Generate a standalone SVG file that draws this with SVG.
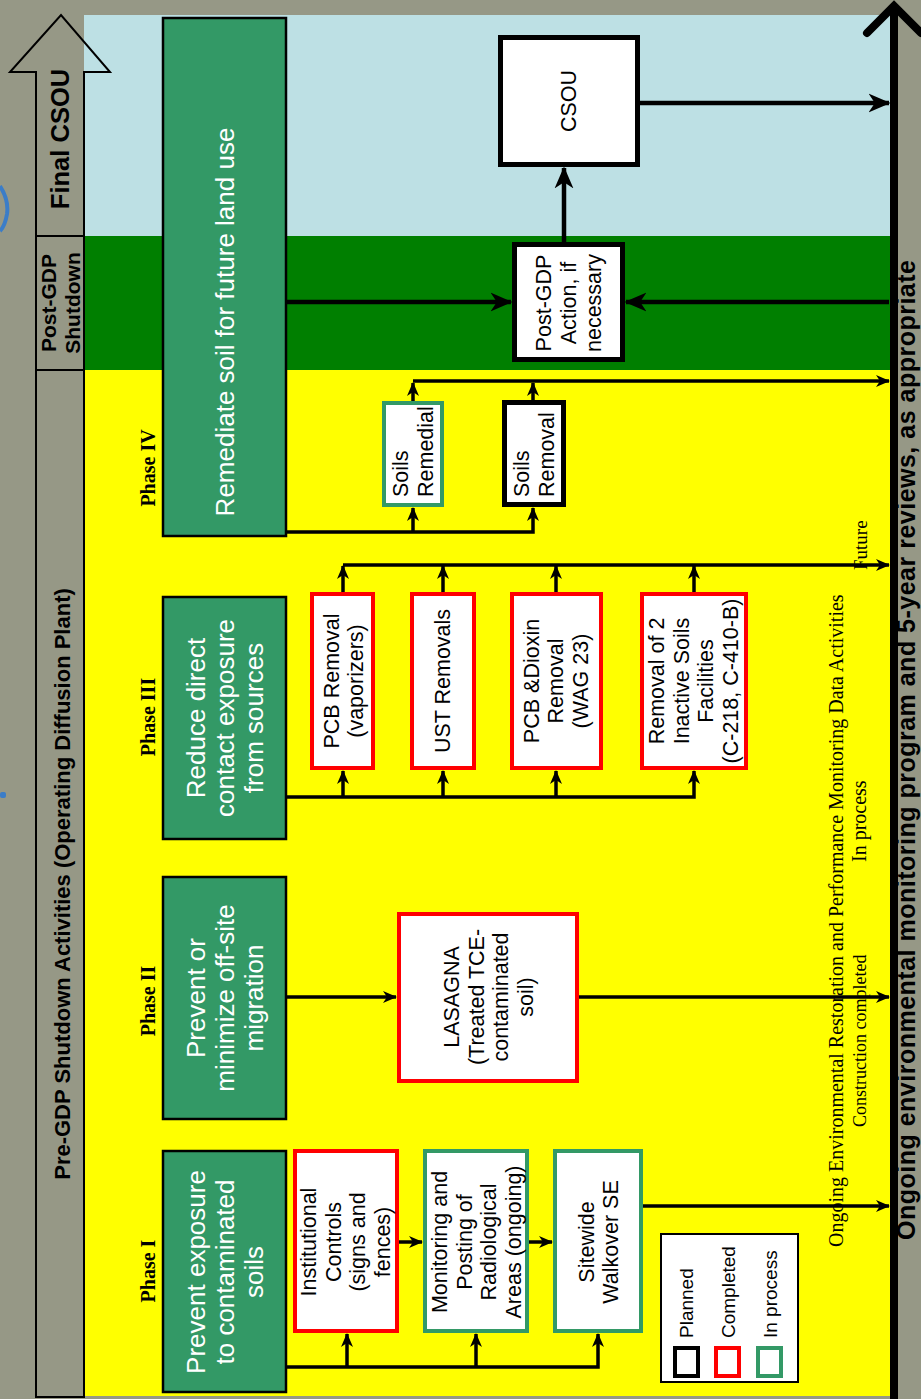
<svg xmlns="http://www.w3.org/2000/svg" width="921" height="1399" viewBox="0 0 921 1399">
<defs>
<style>
.gt{font-family:'Liberation Sans',Arial,sans-serif;font-size:26px;fill:#fff;text-anchor:middle;dominant-baseline:central}
.bt{font-family:'Liberation Sans',Arial,sans-serif;font-size:21.5px;fill:#000;text-anchor:middle;dominant-baseline:central}
.bts{font-family:'Liberation Sans',Arial,sans-serif;font-size:21.5px;fill:#000;text-anchor:start;dominant-baseline:central}
.lg{font-family:'Liberation Sans',Arial,sans-serif;font-size:19px;fill:#000;text-anchor:start}
.ph{font-family:'Liberation Serif','Times New Roman',serif;font-weight:bold;font-size:20px;fill:#000;text-anchor:middle;dominant-baseline:central}
.hd{font-family:'Liberation Sans',Arial,sans-serif;font-weight:bold;fill:#000;text-anchor:middle;dominant-baseline:central}
.sf{font-family:'Liberation Serif','Times New Roman',serif;fill:#000;text-anchor:start}
.gbox{fill:#339966;stroke:#000;stroke-width:2.5}
.red{fill:#fff;stroke:#f00;stroke-width:4}
.grn{fill:#fff;stroke:#339966;stroke-width:4}
.blk{fill:#fff;stroke:#000;stroke-width:5}
.cn{fill:none;stroke:#000;stroke-width:3.5;stroke-linejoin:miter}
.cnL{fill:none;stroke:#000;stroke-width:4.5}
</style>
<marker id="ah" viewBox="0 0 14 14" markerWidth="14" markerHeight="14" refX="13" refY="7" orient="auto" markerUnits="userSpaceOnUse"><path d="M0,1 L14,7 L0,13 L4,7 Z" fill="#000"/></marker>
<marker id="ahL" viewBox="0 0 14 14" markerWidth="22" markerHeight="22" refX="13" refY="7" orient="auto" markerUnits="userSpaceOnUse"><path d="M0,1 L14,7 L0,13 L4,7 Z" fill="#000"/></marker>
</defs>

<g id="background">
<rect width="921" height="1399" fill="#969886"/>
<rect x="84" y="15" width="806" height="221" fill="#BDE0E4"/>
<rect x="84" y="236" width="806" height="134" fill="#007F00"/>
<rect x="84" y="370" width="806" height="1026" fill="#FFFF00"/>
<path d="M0,186 Q9,200 7,214 Q5,226 0,231" fill="none" stroke="#3B7DC8" stroke-width="4"/>
<rect x="0" y="792" width="6" height="6" rx="2" fill="#3B7DC8"/>
</g>

<g id="header-column">
<path d="M36,1397 V72 H10 L61,15 L110,72 H84 V1397 Z" fill="none" stroke="#000" stroke-width="2"/>
<line x1="36" y1="236" x2="84" y2="236" stroke="#000" stroke-width="2"/>
<line x1="36" y1="370" x2="84" y2="370" stroke="#000" stroke-width="2"/>
<text class="hd" font-size="25.5" transform="translate(60,139) rotate(-90)">Final CSOU</text>
<text class="hd" font-size="21" transform="translate(60,303) rotate(-90)"><tspan x="0" dy="-12">Post-GDP</tspan><tspan x="0" dy="24">Shutdown</tspan></text>
<text class="hd" font-size="22" transform="translate(62,884) rotate(-90)">Pre-GDP Shutdown Activities (Operating Diffusion Plant)</text>
</g>

<g id="axis">
<line x1="894" y1="8" x2="894" y2="1399" stroke="#000" stroke-width="8"/>
<polyline points="867,33 894,6 921,33" fill="none" stroke="#000" stroke-width="8" stroke-linecap="round"/>
<text class="hd" font-size="25" textLength="980" lengthAdjust="spacing" style="text-anchor:start;dominant-baseline:auto" transform="translate(915,1240) rotate(-90)">Ongoing environmental monitoring program and 5-year reviews, as appropriate</text>
</g>

<g id="phase-labels">
<text class="ph" transform="translate(148,468) rotate(-90)">Phase IV</text>
<text class="ph" transform="translate(148,717) rotate(-90)">Phase III</text>
<text class="ph" transform="translate(148,1001) rotate(-90)">Phase II</text>
<text class="ph" transform="translate(148,1271) rotate(-90)">Phase I</text>
</g>

<g id="connectors">
<path class="cnL" d="M640,103 H889" marker-end="url(#ahL)"/>
<path class="cnL" d="M564,242 V168" marker-end="url(#ahL)"/>
<path class="cnL" d="M287,302 H511" marker-end="url(#ahL)"/>
<path class="cnL" d="M889,302 H626" marker-end="url(#ahL)"/>

<path class="cn" d="M287,532 H533 V508" marker-end="url(#ah)"/>
<path class="cn" d="M413,532 V508" marker-end="url(#ah)"/>
<path class="cn" d="M413,401 V383" marker-end="url(#ah)"/>
<path class="cn" d="M533,400 V383" marker-end="url(#ah)"/>
<path class="cn" d="M413,381 H889" marker-end="url(#ah)"/>

<path class="cn" d="M287,797 H694 V771" marker-end="url(#ah)"/>
<path class="cn" d="M343,797 V771" marker-end="url(#ah)"/>
<path class="cn" d="M443,797 V771" marker-end="url(#ah)"/>
<path class="cn" d="M556,797 V771" marker-end="url(#ah)"/>
<path class="cn" d="M343,592 V566" marker-end="url(#ah)"/>
<path class="cn" d="M443,592 V566" marker-end="url(#ah)"/>
<path class="cn" d="M556,592 V566" marker-end="url(#ah)"/>
<path class="cn" d="M694,592 V566" marker-end="url(#ah)"/>
<path class="cn" d="M343,565 H889" marker-end="url(#ah)"/>

<path class="cn" d="M287,997 H396" marker-end="url(#ah)"/>
<path class="cn" d="M579,997 H889" marker-end="url(#ah)"/>

<path class="cn" d="M287,1367 H598 V1334" marker-end="url(#ah)"/>
<path class="cn" d="M347,1367 V1334" marker-end="url(#ah)"/>
<path class="cn" d="M476,1367 V1334" marker-end="url(#ah)"/>
<path class="cn" d="M399,1242 H422" marker-end="url(#ah)"/>
<path class="cn" d="M529,1242 H552" marker-end="url(#ah)"/>
<path class="cn" d="M643,1206 H889" marker-end="url(#ah)"/>
</g>

<g id="phase4-goal">
<rect class="gbox" x="163" y="18" width="123" height="518"/>
<text class="gt" transform="translate(225,322) rotate(-90)">Remediate soil for future land use</text>
</g>
<g id="phase3-goal">
<rect class="gbox" x="163" y="597" width="123" height="242"/>
<text class="gt" transform="translate(225,718) rotate(-90)"><tspan x="0" dy="-29">Reduce direct</tspan><tspan x="0" dy="29">contact exposure</tspan><tspan x="0" dy="29">from sources</tspan></text>
</g>
<g id="phase2-goal">
<rect class="gbox" x="163" y="877" width="123" height="242"/>
<text class="gt" transform="translate(225,998) rotate(-90)"><tspan x="0" dy="-29">Prevent or</tspan><tspan x="0" dy="29">minimize off-site</tspan><tspan x="0" dy="29">migration</tspan></text>
</g>
<g id="phase1-goal">
<rect class="gbox" x="163" y="1151" width="123" height="241"/>
<text class="gt" transform="translate(225,1272) rotate(-90)"><tspan x="0" dy="-29">Prevent exposure</tspan><tspan x="0" dy="29">to contaminated</tspan><tspan x="0" dy="29">soils</tspan></text>
</g>

<g id="csou">
<rect class="blk" x="500.5" y="37.5" width="137" height="127"/>
<text class="bt" transform="translate(569,101) rotate(-90)">CSOU</text>
</g>
<g id="post-gdp-action">
<rect class="blk" x="514.5" y="244.5" width="108" height="115"/>
<text class="bt" transform="translate(569,303) rotate(-90)"><tspan x="0" dy="-25">Post-GDP</tspan><tspan x="0" dy="25">Action, if</tspan><tspan x="0" dy="25">necessary</tspan></text>
</g>
<g id="soils-remedial">
<rect class="grn" x="384" y="403" width="58" height="102"/>
<text class="bts" transform="translate(413,497) rotate(-90)"><tspan x="0" dy="-12.5">Soils</tspan><tspan x="0" dy="25">Remedial</tspan></text>
</g>
<g id="soils-removal">
<rect class="blk" x="504.5" y="402.5" width="59" height="102"/>
<text class="bts" transform="translate(534,497) rotate(-90)"><tspan x="0" dy="-12.5">Soils</tspan><tspan x="0" dy="25">Removal</tspan></text>
</g>

<g id="pcb-removal">
<rect class="red" x="312" y="594" width="61" height="174"/>
<text class="bt" transform="translate(344,681) rotate(-90)"><tspan x="0" dy="-12">PCB Removal</tspan><tspan x="0" dy="24">(vaporizers)</tspan></text>
</g>
<g id="ust-removals">
<rect class="red" x="412" y="594" width="62" height="174"/>
<text class="bt" transform="translate(443,681) rotate(-90)">UST Removals</text>
</g>
<g id="pcb-dioxin">
<rect class="red" x="512" y="594" width="89" height="174"/>
<text class="bt" transform="translate(556,681) rotate(-90)"><tspan x="0" dy="-24.5">PCB &amp;Dioxin</tspan><tspan x="0" dy="24.5">Removal</tspan><tspan x="0" dy="24.5">(WAG 23)</tspan></text>
</g>
<g id="inactive-facilities">
<rect class="red" x="642" y="594" width="104" height="174"/>
<text class="bt" transform="translate(694,681) rotate(-90)"><tspan x="0" dy="-36.75">Removal of 2</tspan><tspan x="0" dy="24.5">Inactive Soils</tspan><tspan x="0" dy="24.5">Facilities</tspan><tspan x="0" dy="24.5">(C-218, C-410-B)</tspan></text>
</g>

<g id="lasagna">
<rect class="red" x="399" y="914" width="178" height="167"/>
<text class="bt" transform="translate(489,997) rotate(-90)"><tspan x="0" dy="-36.75">LASAGNA</tspan><tspan x="0" dy="24.5">(Treated TCE-</tspan><tspan x="0" dy="24.5">contaminated</tspan><tspan x="0" dy="24.5">soil)</tspan></text>
</g>

<g id="institutional-controls">
<rect class="red" x="295" y="1151" width="102" height="180"/>
<text class="bt" transform="translate(346,1242) rotate(-90)"><tspan x="0" dy="-36.75">Institutional</tspan><tspan x="0" dy="24.5">Controls</tspan><tspan x="0" dy="24.5">(signs and</tspan><tspan x="0" dy="24.5">fences)</tspan></text>
</g>
<g id="monitoring-posting">
<rect class="grn" x="425" y="1151" width="102" height="180"/>
<text class="bt" transform="translate(477,1242) rotate(-90)"><tspan x="0" dy="-36.75">Monitoring and</tspan><tspan x="0" dy="24.5">Posting of</tspan><tspan x="0" dy="24.5">Radiological</tspan><tspan x="0" dy="24.5">Areas (ongoing)</tspan></text>
</g>
<g id="sitewide-walkover">
<rect class="grn" x="555" y="1151" width="86" height="180"/>
<text class="bt" transform="translate(599,1242) rotate(-90)"><tspan x="0" dy="-12">Sitewide</tspan><tspan x="0" dy="24">Walkover SE</tspan></text>
</g>

<g id="legend">
<rect x="661" y="1234" width="137" height="148" fill="#fff" stroke="#000" stroke-width="2"/>
<rect x="675" y="1348" width="23" height="28" fill="#fff" stroke="#000" stroke-width="4"/>
<rect x="716" y="1348" width="23" height="28" fill="#fff" stroke="#f00" stroke-width="4"/>
<rect x="758" y="1348" width="23" height="28" fill="#fff" stroke="#339966" stroke-width="4"/>
<text class="lg" transform="translate(693,1338) rotate(-90)">Planned</text>
<text class="lg" transform="translate(735,1338) rotate(-90)">Completed</text>
<text class="lg" transform="translate(777,1338) rotate(-90)">In process</text>
</g>

<g id="annotations">
<text class="sf" font-size="20" transform="translate(843,1247) rotate(-90)">Ongoing Environmental Restoration and Performance Monitoring Data Activities</text>
<text class="sf" font-size="18" transform="translate(866,1127) rotate(-90)">Construction completed</text>
<text class="sf" font-size="20" transform="translate(866,862) rotate(-90)">In process</text>
<text class="sf" font-size="19" transform="translate(867,570) rotate(-90)">Future</text>
</g>
</svg>
